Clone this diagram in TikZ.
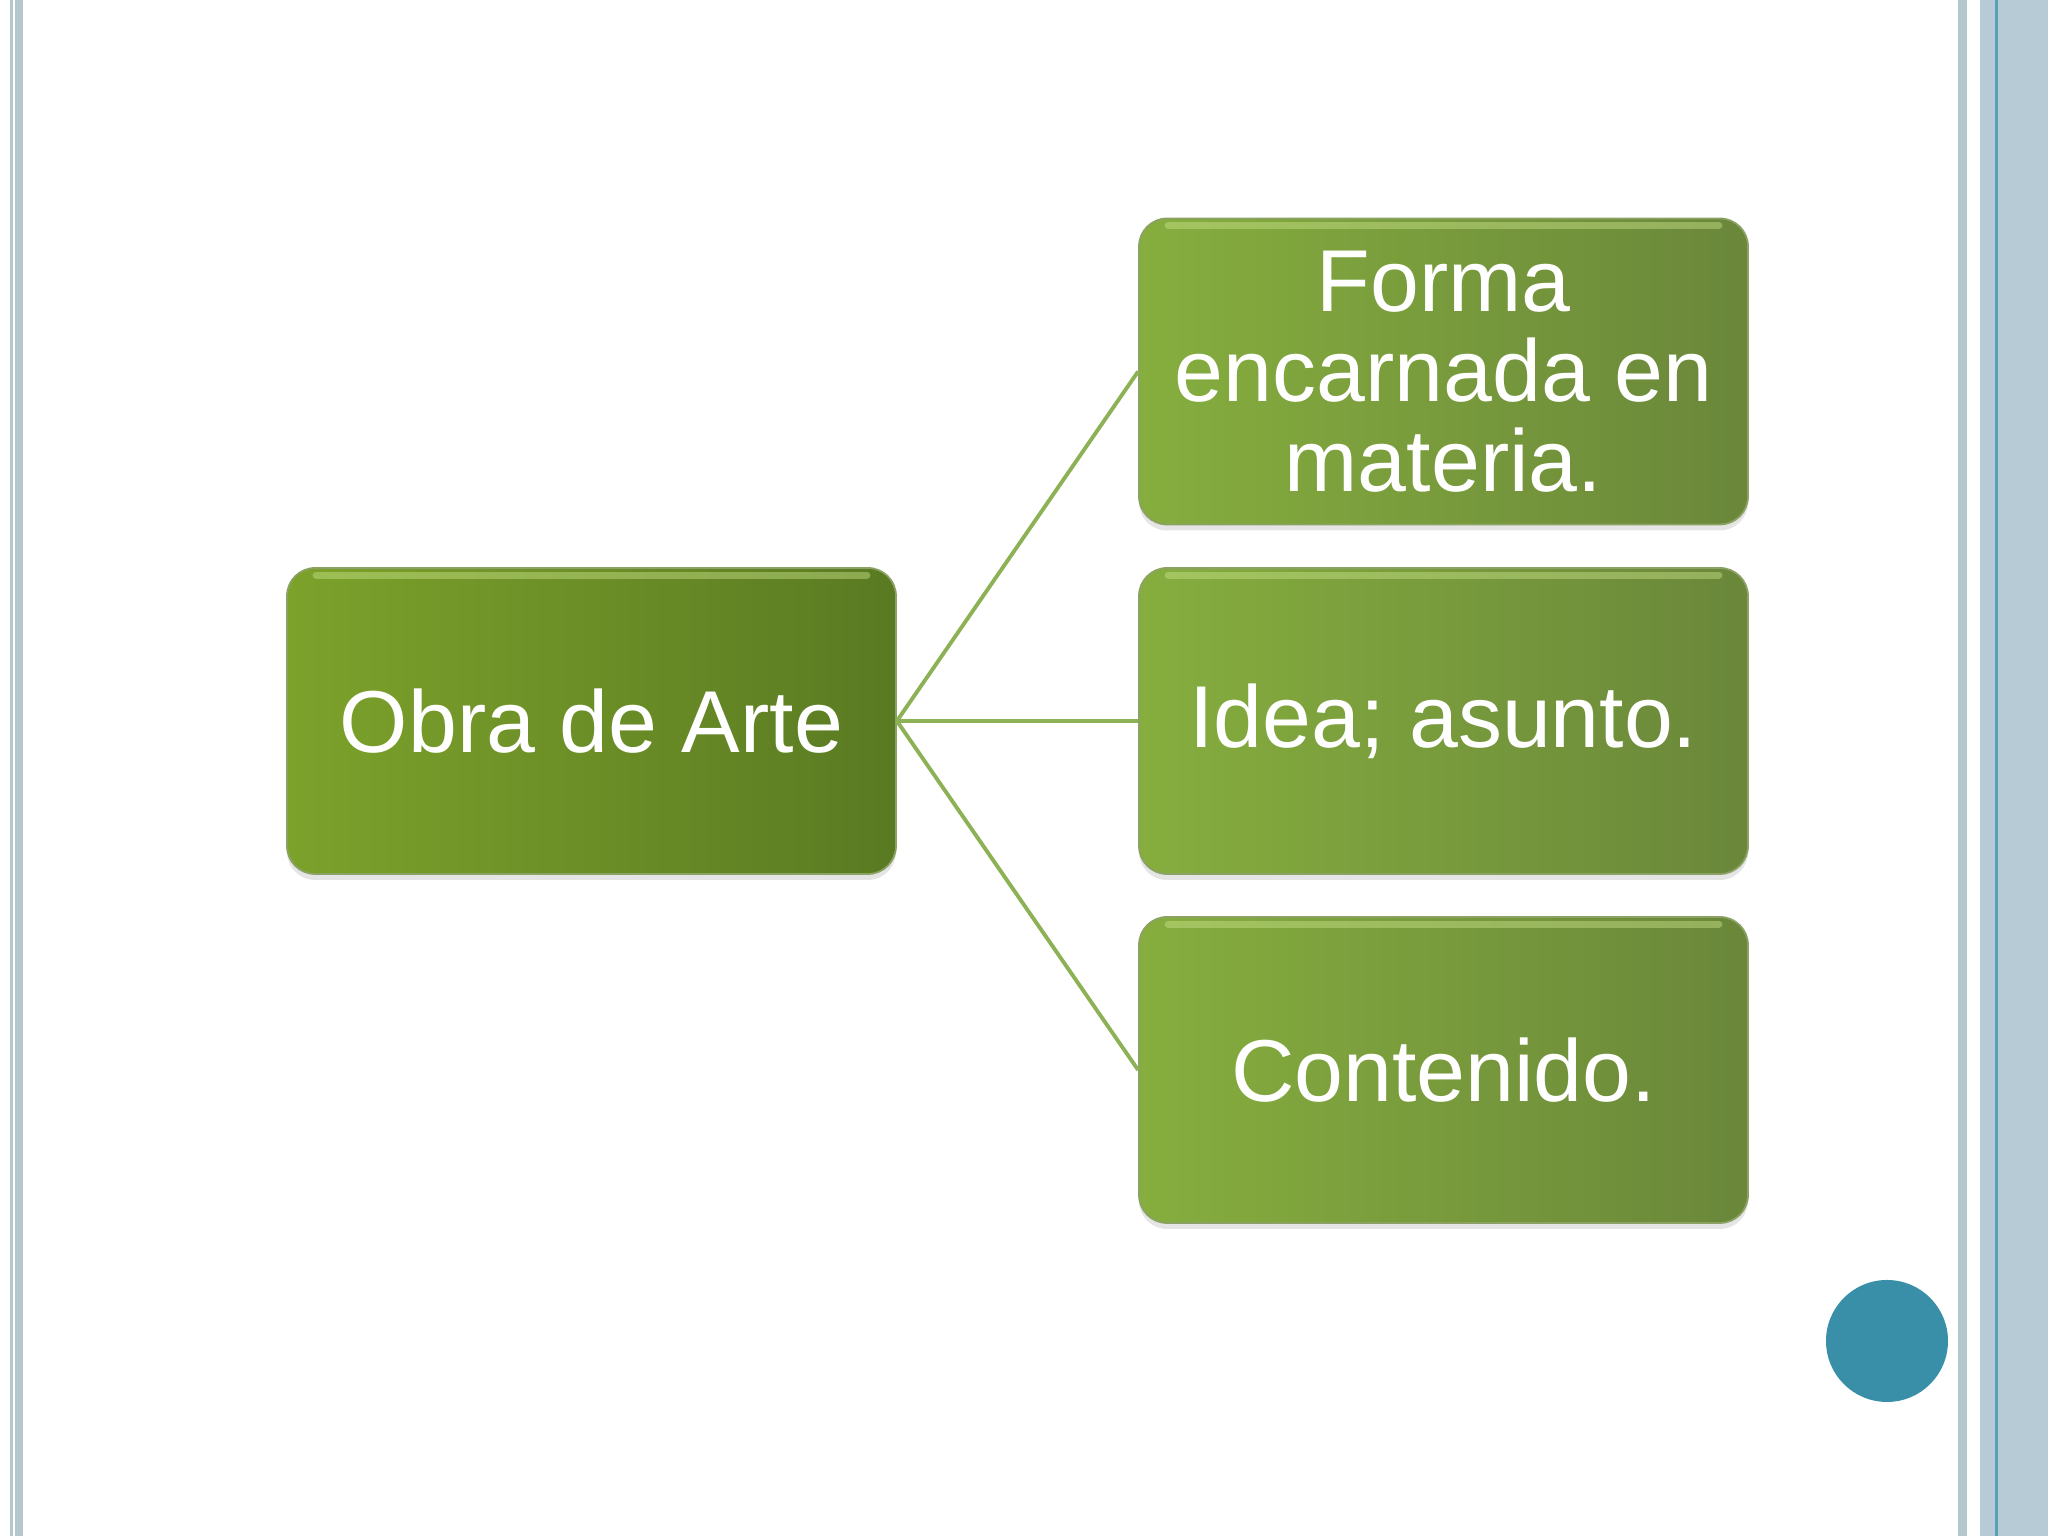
\documentclass[tikz,border=0pt]{standalone}
\usepackage{fontspec}
\setmainfont{Liberation Sans}
\usetikzlibrary{shadows}
\definecolor{boxdark}{HTML}{5A7A22}
\definecolor{boxmid}{HTML}{7CA22B}
\definecolor{boxlight}{HTML}{86AE3E}
\definecolor{boxolive}{HTML}{6A873A}
\definecolor{linkgreen}{HTML}{8DB255}
\definecolor{edgeblue}{HTML}{B6CBD5}
\definecolor{edgegray}{HTML}{B4C7CC}
\definecolor{dotteal}{HTML}{3A8FA8}
\definecolor{shine}{HTML}{C9E28A}
\tikzset{
  box/.style={rectangle, rounded corners=0.28cm, minimum width=6.09cm,
    minimum height=3.06cm, text=white, align=center, draw=boxdark!70,
    line width=0.5pt, drop shadow={opacity=0.2, shadow xshift=0cm, shadow yshift=-0.06cm},
    font=\fontsize{25}{25.6}\selectfont},
  mainbox/.style={box, left color=boxmid, right color=boxdark},
  subbox/.style={box, left color=boxlight, right color=boxolive},
  link/.style={draw=linkgreen, line width=1.1pt}
}
\begin{document}
\begin{tikzpicture}
  \useasboundingbox (0,0) rectangle (20.48,15.36);
  \fill[white] (0,0) rectangle (20.48,15.36);
  % slide borders
  \fill[edgegray] (0.10,0) rectangle (0.13,15.36);
  \fill[edgegray] (0.155,0) rectangle (0.23,15.36);
  \fill[edgegray] (19.58,0) rectangle (19.67,15.36);
  \fill[edgeblue] (19.80,0) rectangle (20.48,15.36);
  \fill[dotteal!85] (19.95,0) rectangle (19.98,15.36);
  \node[circle, fill=dotteal, minimum size=1.22cm, inner sep=0pt] (dot) at (18.87,1.95) {};
  % boxes
  \node[mainbox] (obra) at (5.915,8.15) {Obra de Arte};
  \node[subbox] (forma) at (14.435,11.645) {Forma\\encarnada en\\materia.};
  \node[subbox] (idea) at (14.435,8.15) {Idea; asunto.};
  \node[subbox] (cont) at (14.435,4.66) {Contenido.};
  % top highlights
  \foreach \n in {obra,forma,idea,cont}
    \draw[shine, line width=2pt, opacity=0.45, line cap=round]
      ([xshift=0.3cm,yshift=-0.08cm]\n.north west) -- ([xshift=-0.3cm,yshift=-0.08cm]\n.north east);
  \draw [link] (obra.east) -- (forma.west);
  \draw [link] (obra.east) -- (idea.west);
  \draw [link] (obra.east) -- (cont.west);
\end{tikzpicture}
\end{document}
